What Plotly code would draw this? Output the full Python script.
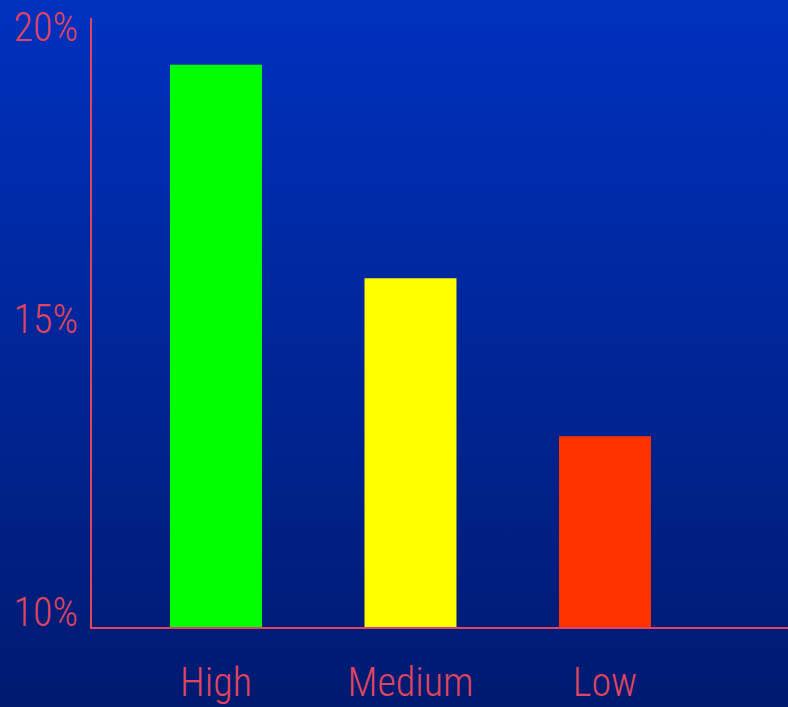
import plotly.graph_objects as go

categories = ["High", "Medium", "Low"]
values = [19.35, 15.7, 13.0]
bar_colors = ["#00ff00", "#ffff00", "#ff3300"]
tick_vals = [10, 15, 20]
tick_text = ["10%", "15%", "20%"]

W, H = 788, 707
ml, mr, mt, mb = 92, 0, 18, 80
pw, ph = W - ml - mr, H - mt - mb

text_col = "#e0455f"
font_family = "Liberation Sans Narrow, Roboto Condensed, Arial Narrow, sans-serif"

svg = (
    "data:image/svg+xml;utf8,"
    "<svg xmlns='http://www.w3.org/2000/svg' width='788' height='707' preserveAspectRatio='none'>"
    "<defs><linearGradient id='g' x1='0' y1='0' x2='0' y2='1'>"
    "<stop offset='0' stop-color='%230031bf'/>"
    "<stop offset='1' stop-color='%23001a70'/>"
    "</linearGradient></defs>"
    "<rect width='788' height='707' fill='url(%23g)'/></svg>"
)

fig = go.Figure()
fig.add_trace(go.Bar(
    x=categories, y=values, marker=dict(color=bar_colors, line=dict(width=0)),
    width=0.473, hoverinfo="skip",
))

tick_font = dict(size=40, color=text_col, weight=300)

fig.update_layout(
    width=W, height=H,
    margin=dict(l=ml, r=mr, t=mt, b=mb, pad=0, autoexpand=False),
    paper_bgcolor="#001e80",
    plot_bgcolor="rgba(0,0,0,0)",
    showlegend=False,
    font=dict(family=font_family, color=text_col, size=40),
    images=[dict(
        source=svg, xref="paper", yref="paper",
        x=-ml / pw, y=1 + mt / ph, sizex=W / pw, sizey=H / ph,
        xanchor="left", yanchor="top", sizing="stretch", layer="below",
    )],
    xaxis=dict(
        range=[-0.6375, 2.941], showgrid=False, zeroline=False,
        showline=True, linecolor=text_col, linewidth=2,
        ticks="", tickfont=tick_font, automargin=False,
        ticklabelstandoff=19,
    ),
    yaxis=dict(
        range=[9.74, 20.15], showgrid=False, zeroline=False,
        showline=True, linecolor=text_col, linewidth=2,
        tickvals=tick_vals, ticktext=tick_text, ticks="",
        tickfont=tick_font, automargin=False,
        ticklabelstandoff=4,
    ),
)

fig.write_html(
    "out.html",
    config={"displayModeBar": False},
    post_script="document.body.style.margin='0';document.body.style.overflow='hidden';",
)
